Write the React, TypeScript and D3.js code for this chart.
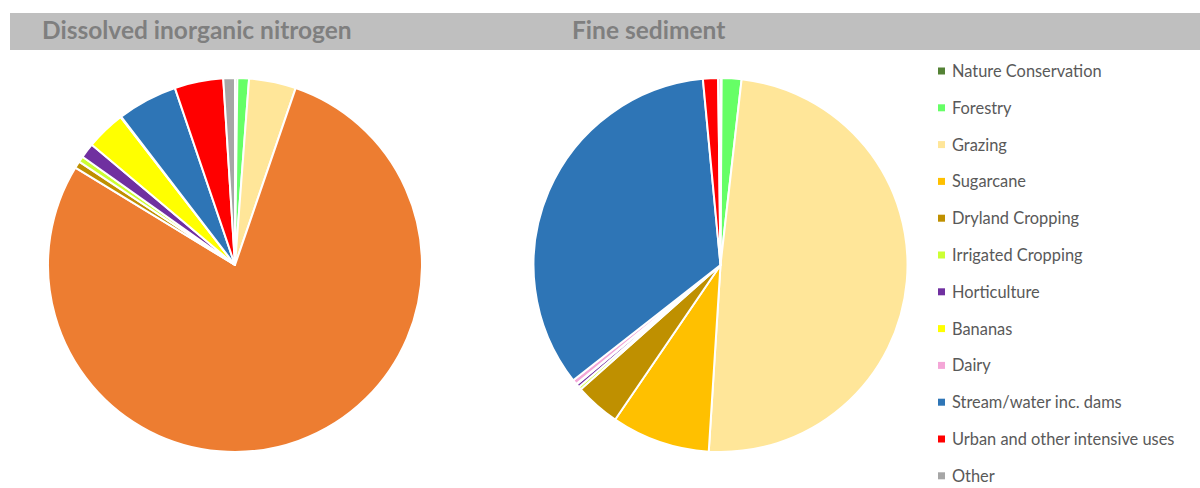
import React from "react";
import * as d3 from "d3";

const categories = [
  "Nature Conservation",
  "Forestry",
  "Grazing",
  "Sugarcane",
  "Dryland Cropping",
  "Irrigated Cropping",
  "Horticulture",
  "Bananas",
  "Dairy",
  "Stream/water inc. dams",
  "Urban and other intensive uses",
  "Other",
];

const legendColors = [
  "#548235", "#66ff66", "#ffe699", "#ffc000", "#bf9000", "#ccff33",
  "#7030a0", "#ffff00", "#f4a6d7", "#2e75b6", "#ff0000", "#a6a6a6",
];

// DIN pie uses orange for sugarcane
const dinColors = [
  "#548235", "#66ff66", "#ffe699", "#ed7d31", "#bf9000", "#ccff33",
  "#7030a0", "#ffff00", "#f4a6d7", "#2e75b6", "#ff0000", "#a6a6a6",
];

const dinValues = [0.2, 1.0, 4.05, 78.3, 0.6, 0.5, 1.3, 3.4, 0.05, 5.2, 4.2, 1.0];
const sedimentValues = [0.1, 1.7, 49.1, 8.5, 3.9, 0.25, 0.3, 0.05, 0.4, 34.0, 1.3, 0.2];

const titles = ["Dissolved inorganic nitrogen", "Fine sediment"];

function Pie({ values, colors, cx, cy, r }: { values: number[]; colors: string[]; cx: number; cy: number; r: number }) {
  const pie = d3.pie<number>().sort(null).value((d) => d);
  const arc = d3.arc<d3.PieArcDatum<number>>().innerRadius(0).outerRadius(r);
  const arcs = pie(values);
  return (
    <g transform={`translate(${cx},${cy})`}>
      {arcs.map((a, i) => (
        <path key={i} d={arc(a) || ""} fill={colors[i]} stroke="#ffffff" strokeWidth={2} strokeLinejoin="round" />
      ))}
    </g>
  );
}

export default function App() {
  const W = 1200;
  const H = 488;
  const font = "Lato, 'Open Sans', sans-serif";
  return (
    <svg width={W} height={H} style={{ position: "absolute", left: 0, top: 0, background: "#fff" }}>
      <rect x={10} y={13} width={1190} height={37} fill="#bfbfbf" />
      <text x={42} y={39} fontFamily={font} fontWeight="bold" fontSize={24.5} fill="#7f7f7f">{titles[0]}</text>
      <text x={572} y={39} fontFamily={font} fontWeight="bold" fontSize={24.5} fill="#7f7f7f">{titles[1]}</text>
      <Pie values={dinValues} colors={dinColors} cx={235} cy={265} r={187} />
      <Pie values={sedimentValues} colors={legendColors} cx={720.5} cy={265} r={187} />
      <g>
        {categories.map((c, i) => {
          const y = 71 + i * 36.8;
          return (
            <g key={c}>
              <rect x={938} y={y - 3.5} width={7} height={7} fill={legendColors[i]} />
              <text x={952} y={y} dy="0.36em" fontFamily={font} fontSize={16.4} fill="#595959">{c}</text>
            </g>
          );
        })}
      </g>
    </svg>
  );
}
